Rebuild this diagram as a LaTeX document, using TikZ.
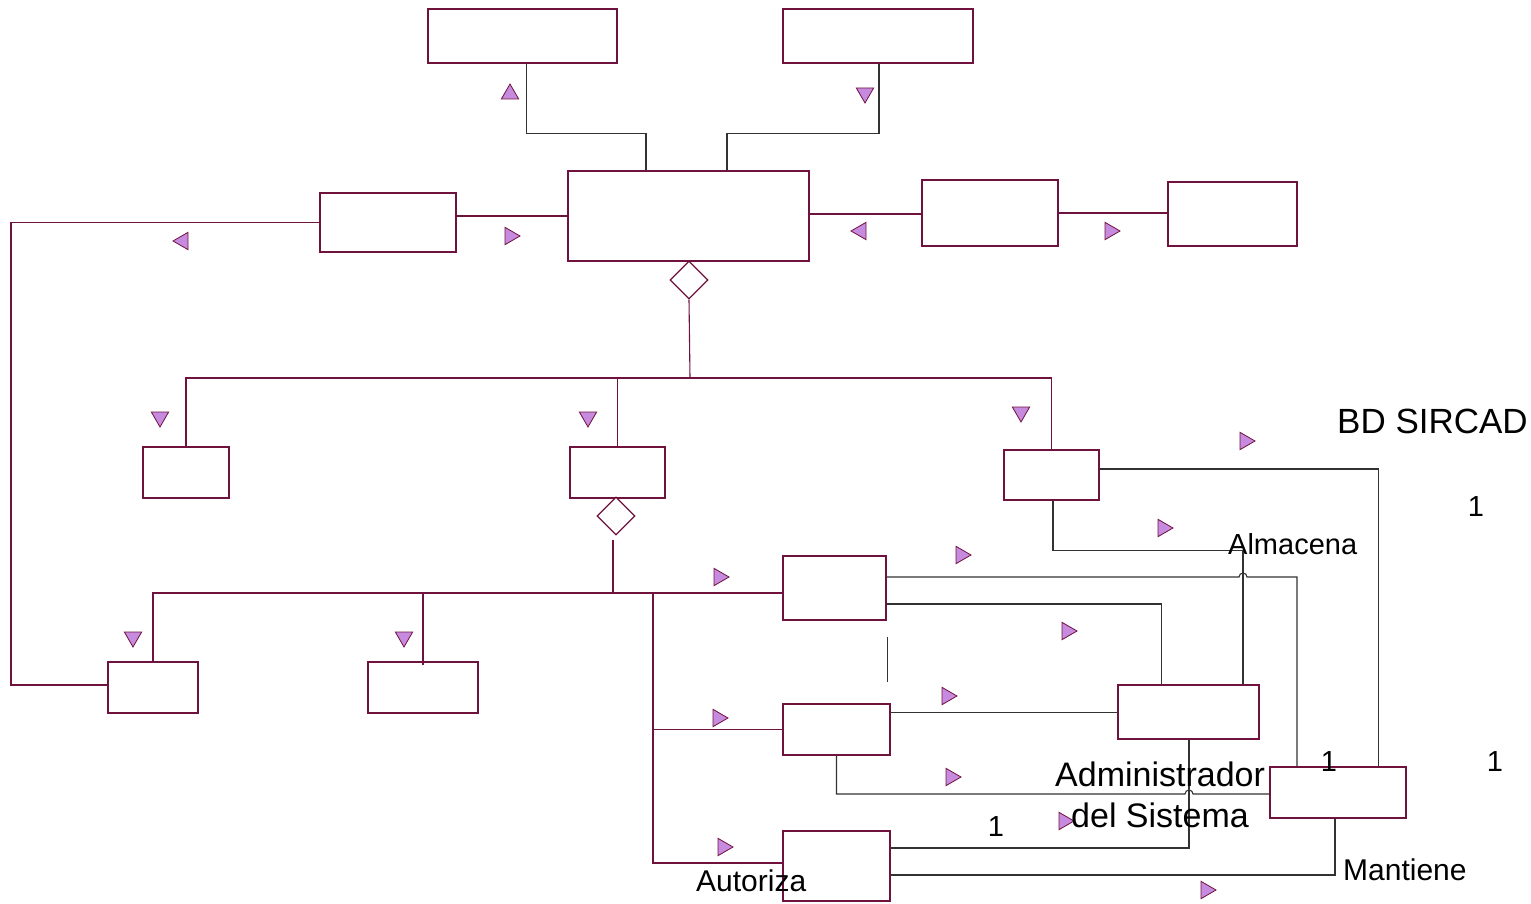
\documentclass[tikz,border=0pt]{standalone}
\usepackage{fontspec}
\setmainfont{Liberation Sans}
\usetikzlibrary{shapes.geometric}
\definecolor{maroon}{RGB}{112,18,62}
\definecolor{lilac}{RGB}{198,138,222}
\definecolor{wire}{RGB}{50,50,50}

\begin{document}
\begin{tikzpicture}[x=1pt, y=-1pt,
  box/.style={draw=maroon, line width=1.1pt, fill=white, inner sep=0pt},
  dia/.style={diamond, draw=maroon, line width=1.2pt, fill=white, inner sep=0pt, minimum width=38pt, minimum height=38pt},
  tri/.style={regular polygon, regular polygon sides=3, draw=maroon, line width=0.8pt, fill=lilac, inner sep=0pt, minimum size=20pt},
  mar/.style={draw=maroon, line width=1.1pt},
  blk/.style={draw=wire, line width=1.1pt},
  lbl/.style={inner sep=0pt, anchor=base west, font=\fontsize{30}{36}\selectfont},
  num/.style={inner sep=0pt, font=\fontsize{29}{35}\selectfont}]
\useasboundingbox (0,0) rectangle (1531,904);
% Classes (empty boxes)
\node[box, minimum width=189pt, minimum height=54pt] (t1) at (522.5,36) {};
\node[box, minimum width=190pt, minimum height=54pt] (t2) at (878,36) {};
\node[box, minimum width=241pt, minimum height=90pt] (c) at (688.5,216) {};
\node[box, minimum width=136pt, minimum height=59pt] (l1) at (388,222.5) {};
\node[box, minimum width=136pt, minimum height=66pt] (r1) at (990,213) {};
\node[box, minimum width=129pt, minimum height=64pt] (r2) at (1232.5,214) {};
\node[box, minimum width=86pt, minimum height=51pt] (m1) at (186,472.5) {};
\node[box, minimum width=95pt, minimum height=51pt] (m2) at (617.5,472.5) {};
\node[box, minimum width=95pt, minimum height=50pt] (m3) at (1051.5,475) {};
\node[box, minimum width=90pt, minimum height=51pt] (b1) at (153,687.5) {};
\node[box, minimum width=110pt, minimum height=51pt] (b2) at (423,687.5) {};
\node[box, minimum width=103pt, minimum height=64pt] (d1) at (834.5,588) {};
\node[box, minimum width=107pt, minimum height=51pt] (d2) at (836.5,729.5) {};
\node[box, minimum width=107pt, minimum height=70pt] (d3) at (836.5,866) {};
\node[box, minimum width=141pt, minimum height=54pt] (ad) at (1188.5,712) {};
\node[box, minimum width=136pt, minimum height=51pt] (bd) at (1338,792.5) {};
% Aggregation diamonds
\node[dia] (dia1) at (689,280) {};
\node[dia] (dia2) at (616,516) {};
% Bus points, hops and loose marks
\coordinate (bus1) at (690,378);
\coordinate (bus2) at (613,593);
\coordinate (br) at (653,593);
\coordinate (lft) at (11,222.5);
\coordinate (hop1) at (1243,577);
\coordinate (hop2) at (1189,794);
\coordinate (s1) at (887.5,637);
\coordinate (s2) at (887.5,682);
% Top links
\draw[blk] ([xshift=4pt]t1.south) -- ++(0,70) -| ([xshift=-42.5pt]c.north);
\draw[blk] ([xshift=1pt]t2.south) -- ++(0,70) -| ([xshift=38.5pt]c.north);
\draw[mar] ([yshift=6.5pt]l1.east) -- ([yshift=6.5pt]l1.east -| c.west);
\draw[mar] ([yshift=2pt]c.east) -- ([yshift=2pt]c.east -| r1.west);
\draw[mar] (r1.east) -- (r1.east -| r2.west);
\draw[mar] (l1.west) -- (lft) |- ([yshift=2.5pt]b1.west);
% Hierarchy
\draw[mar] (dia1.south) -- (bus1);
\draw[mar] (m1.north) -- (m1.north |- bus1) -- (m3.north |- bus1) -- (m3.north);
\draw[mar] (m2.north) -- (m2.north |- bus1);
\draw[mar] ([xshift=-3pt,yshift=-4pt]dia2.south) -- (bus2);
\draw[mar] (b1.north) |- ([yshift=-5pt]d1.west);
\draw[mar] ([yshift=-4pt]b2.north) -- (b2.north |- bus2);
\draw[mar] (br) |- ([yshift=3pt]d3.west);
\draw[mar] (br |- d2.west) -- (d2.west);
\draw[blk, line width=1pt] (s1) -- (s2);
% Associations
\draw[blk] ([yshift=11pt]d1.east) -- ([xshift=-4pt]hop1) arc (180:360:4) -| ([xshift=-41pt]bd.north);
\draw[blk] ([yshift=-16pt]d1.east) -| ([xshift=-27pt]ad.north);
\draw[blk] ([yshift=6pt]m3.east) -| ([xshift=40.5pt]bd.north);
\draw[blk] ([xshift=1.5pt]m3.south) -- ++(0,50) -| ([xshift=54.5pt]ad.north);
\draw[blk] ([yshift=17pt]d2.east) -- ([yshift=17pt]d2.east -| ad.west);
\draw[blk] (d2.south) |- ([xshift=-4pt]hop2) arc (180:360:4) -- ([yshift=-1.5pt]bd.west);
\draw[blk] ([xshift=0.5pt]ad.south) |- ([yshift=18pt]d3.east);
\draw[blk] ([yshift=-9pt]d3.east) -| ([xshift=-3pt]bd.south);
% Direction marks
\node[tri] (tr1) at (510,94) {};
\node[tri, shape border rotate=180] (tr2) at (865,93) {};
\node[tri, shape border rotate=-90] (tr3) at (510,236) {};
\node[tri, shape border rotate=90] (tr4) at (183,241) {};
\node[tri, shape border rotate=90] (tr5) at (861,231) {};
\node[tri, shape border rotate=-90] (tr6) at (1110,231) {};
\node[tri, shape border rotate=180] (tr7) at (160,417) {};
\node[tri, shape border rotate=180] (tr8) at (588,417) {};
\node[tri, shape border rotate=180] (tr9) at (1021,412) {};
\node[tri, shape border rotate=-90] (tr10) at (1245,441) {};
\node[tri, shape border rotate=-90] (tr11) at (1163,528) {};
\node[tri, shape border rotate=-90] (tr12) at (961,555) {};
\node[tri, shape border rotate=-90] (tr13) at (719,577) {};
\node[tri, shape border rotate=-90] (tr14) at (1067,631) {};
\node[tri, shape border rotate=180] (tr15) at (133,637) {};
\node[tri, shape border rotate=180] (tr16) at (404,637) {};
\node[tri, shape border rotate=-90] (tr17) at (947,696) {};
\node[tri, shape border rotate=-90] (tr18) at (718,718) {};
\node[tri, shape border rotate=-90] (tr19) at (951,777) {};
\node[tri, shape border rotate=-90] (tr20) at (723,847) {};
\node[tri, shape border rotate=-90] (tr21) at (1064,821) {};
\node[tri, shape border rotate=-90] (tr22) at (1206,890) {};
% Labels
\node[lbl, font=\fontsize{35}{42}\selectfont] (bdname) at (1337,433) {BD SIRCAD};
\node[lbl, font=\fontsize{29}{35}\selectfont] (alm) at (1228,554) {Almacena};
\node[lbl, font=\fontsize{34}{41}\selectfont] (adm1) at (1055,786) {Administrador};
\node[lbl, font=\fontsize{34}{41}\selectfont] (adm2) at (1071,827) {del Sistema};
\node[lbl] (aut) at (696,891) {Autoriza};
\node[lbl] (man) at (1343,880) {Mantiene};
\node[num] (n1) at (1476,507) {1};
\node[num] (n2) at (1329,762) {1};
\node[num] (n3) at (1495,762) {1};
\node[num] (n4) at (996,827) {1};
\end{tikzpicture}
\end{document}
